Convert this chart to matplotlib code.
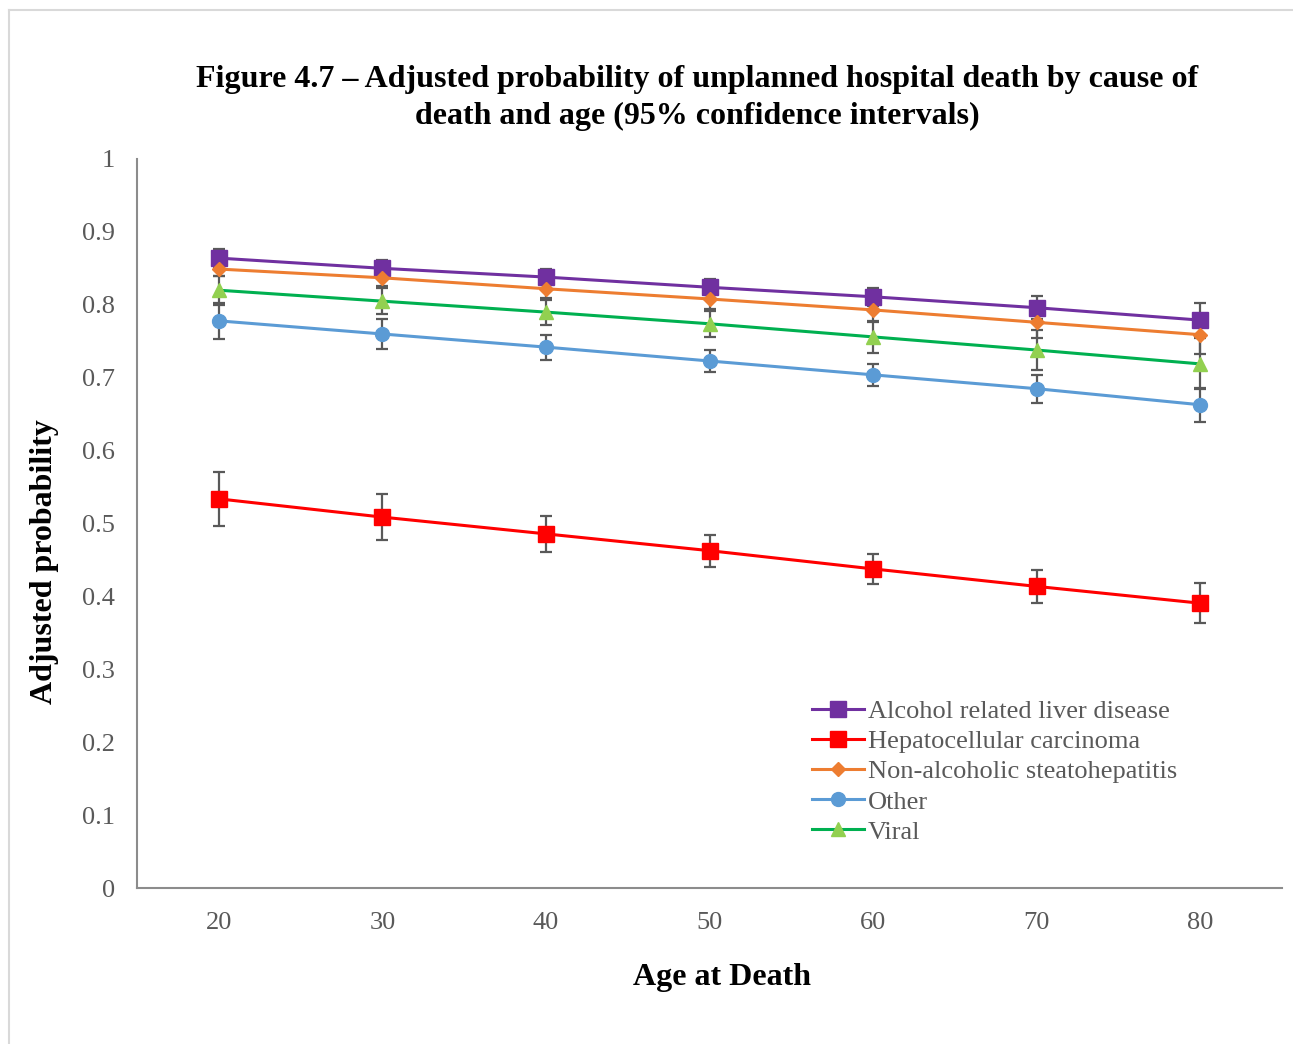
import matplotlib.pyplot as plt
from matplotlib.lines import Line2D

plt.rcParams['font.family'] = ['Liberation Serif', 'DejaVu Serif']

ages = [20, 30, 40, 50, 60, 70, 80]

alcohol = [0.864, 0.850, 0.838, 0.824, 0.811, 0.796, 0.779]
alcohol_ci = [0.013, 0.012, 0.011, 0.011, 0.012, 0.016, 0.023]

hcc = [0.534, 0.509, 0.486, 0.463, 0.438, 0.414, 0.391]
hcc_ci = [0.037, 0.031, 0.025, 0.022, 0.021, 0.023, 0.027]

nash = [0.849, 0.837, 0.822, 0.808, 0.793, 0.776, 0.759]
nash_ci = [0.010, 0.011, 0.012, 0.014, 0.017, 0.021, 0.027]

other = [0.778, 0.760, 0.742, 0.723, 0.704, 0.685, 0.663]
other_ci = [0.025, 0.021, 0.017, 0.015, 0.015, 0.019, 0.023]

viral = [0.820, 0.805, 0.790, 0.774, 0.756, 0.738, 0.719]
viral_ci = [0.020, 0.018, 0.017, 0.018, 0.022, 0.028, 0.035]

series = [
    ("Alcohol related liver disease", alcohol, alcohol_ci, "#7030A0", "#7030A0", "s", 11),
    ("Hepatocellular carcinoma", hcc, hcc_ci, "#FF0000", "#FF0000", "s", 11),
    ("Non-alcoholic steatohepatitis", nash, nash_ci, "#ED7D31", "#ED7D31", "D", 7),
    ("Other", other, other_ci, "#5B9BD5", "#5B9BD5", "o", 10),
    ("Viral", viral, viral_ci, "#00B050", "#92D050", "^", 10),
]

fig = plt.figure(figsize=(12.93, 10.44), dpi=100)
ax = fig.add_axes([0.106, 0.149, 0.8855, 0.6988])

# error bars first so every marker sits on top of all whiskers
for name, vals, ci, lc, mc, mk, ms in series:
    ax.errorbar(ages, vals, yerr=ci, fmt='none', ecolor='#595959',
                elinewidth=1.6, capsize=4.5, capthick=1.6, zorder=2)

handles = []
for name, vals, ci, lc, mc, mk, ms in series:
    h, = ax.plot(ages, vals, color=lc, lw=2.2, marker=mk, markersize=ms,
                 markerfacecolor=mc, markeredgecolor=mc, label=name, zorder=3)
    handles.append(h)

ax.set_xlim(15, 85)
ax.set_ylim(0, 1)
ax.set_xticks(ages)
ax.set_yticks([i / 10 for i in range(11)])
ax.set_yticklabels(['0', '0.1', '0.2', '0.3', '0.4', '0.5', '0.6', '0.7', '0.8', '0.9', '1'])
ax.tick_params(length=0, labelsize=19, labelcolor='#595959')
ax.tick_params(axis='y', pad=16)
ax.tick_params(axis='x', pad=17)
for s in ['top', 'right']:
    ax.spines[s].set_visible(False)
for s in ['left', 'bottom']:
    ax.spines[s].set_color('#8C8C8C')
    ax.spines[s].set_linewidth(1.5)

fig.text(722 / 1293, 1 - 978 / 1044, 'Age at Death', ha='center', va='center',
         fontsize=23, fontweight='bold')
fig.text(45 / 1293, 1 - 562 / 1044, 'Adjusted probability', ha='center', va='center',
         rotation=90, fontsize=23, fontweight='bold')

fig.text(0.539, 1 - 98 / 1044, 'Figure 4.7 \u2013 Adjusted probability of unplanned hospital death by cause of\n'
         'death and age (95% confidence intervals)',
         ha='center', va='center', fontsize=23, fontweight='bold', linespacing=1.36)

leg = ax.legend(handles=handles, loc='lower left', bbox_to_anchor=(0.58, 0.047),
                frameon=False, fontsize=19, handlelength=2.0, handletextpad=0.12,
                labelspacing=0.25, borderaxespad=0)
for t in leg.get_texts():
    t.set_color('#595959')

# chart area border (top and left edges)
fig.add_artist(Line2D([0.007, 1.0], [0.990, 0.990], color='#D9D9D9', lw=1.5))
fig.add_artist(Line2D([0.007, 0.007], [0.0, 0.990], color='#D9D9D9', lw=1.5))

fig.savefig('out.png', dpi=100, facecolor='white')
